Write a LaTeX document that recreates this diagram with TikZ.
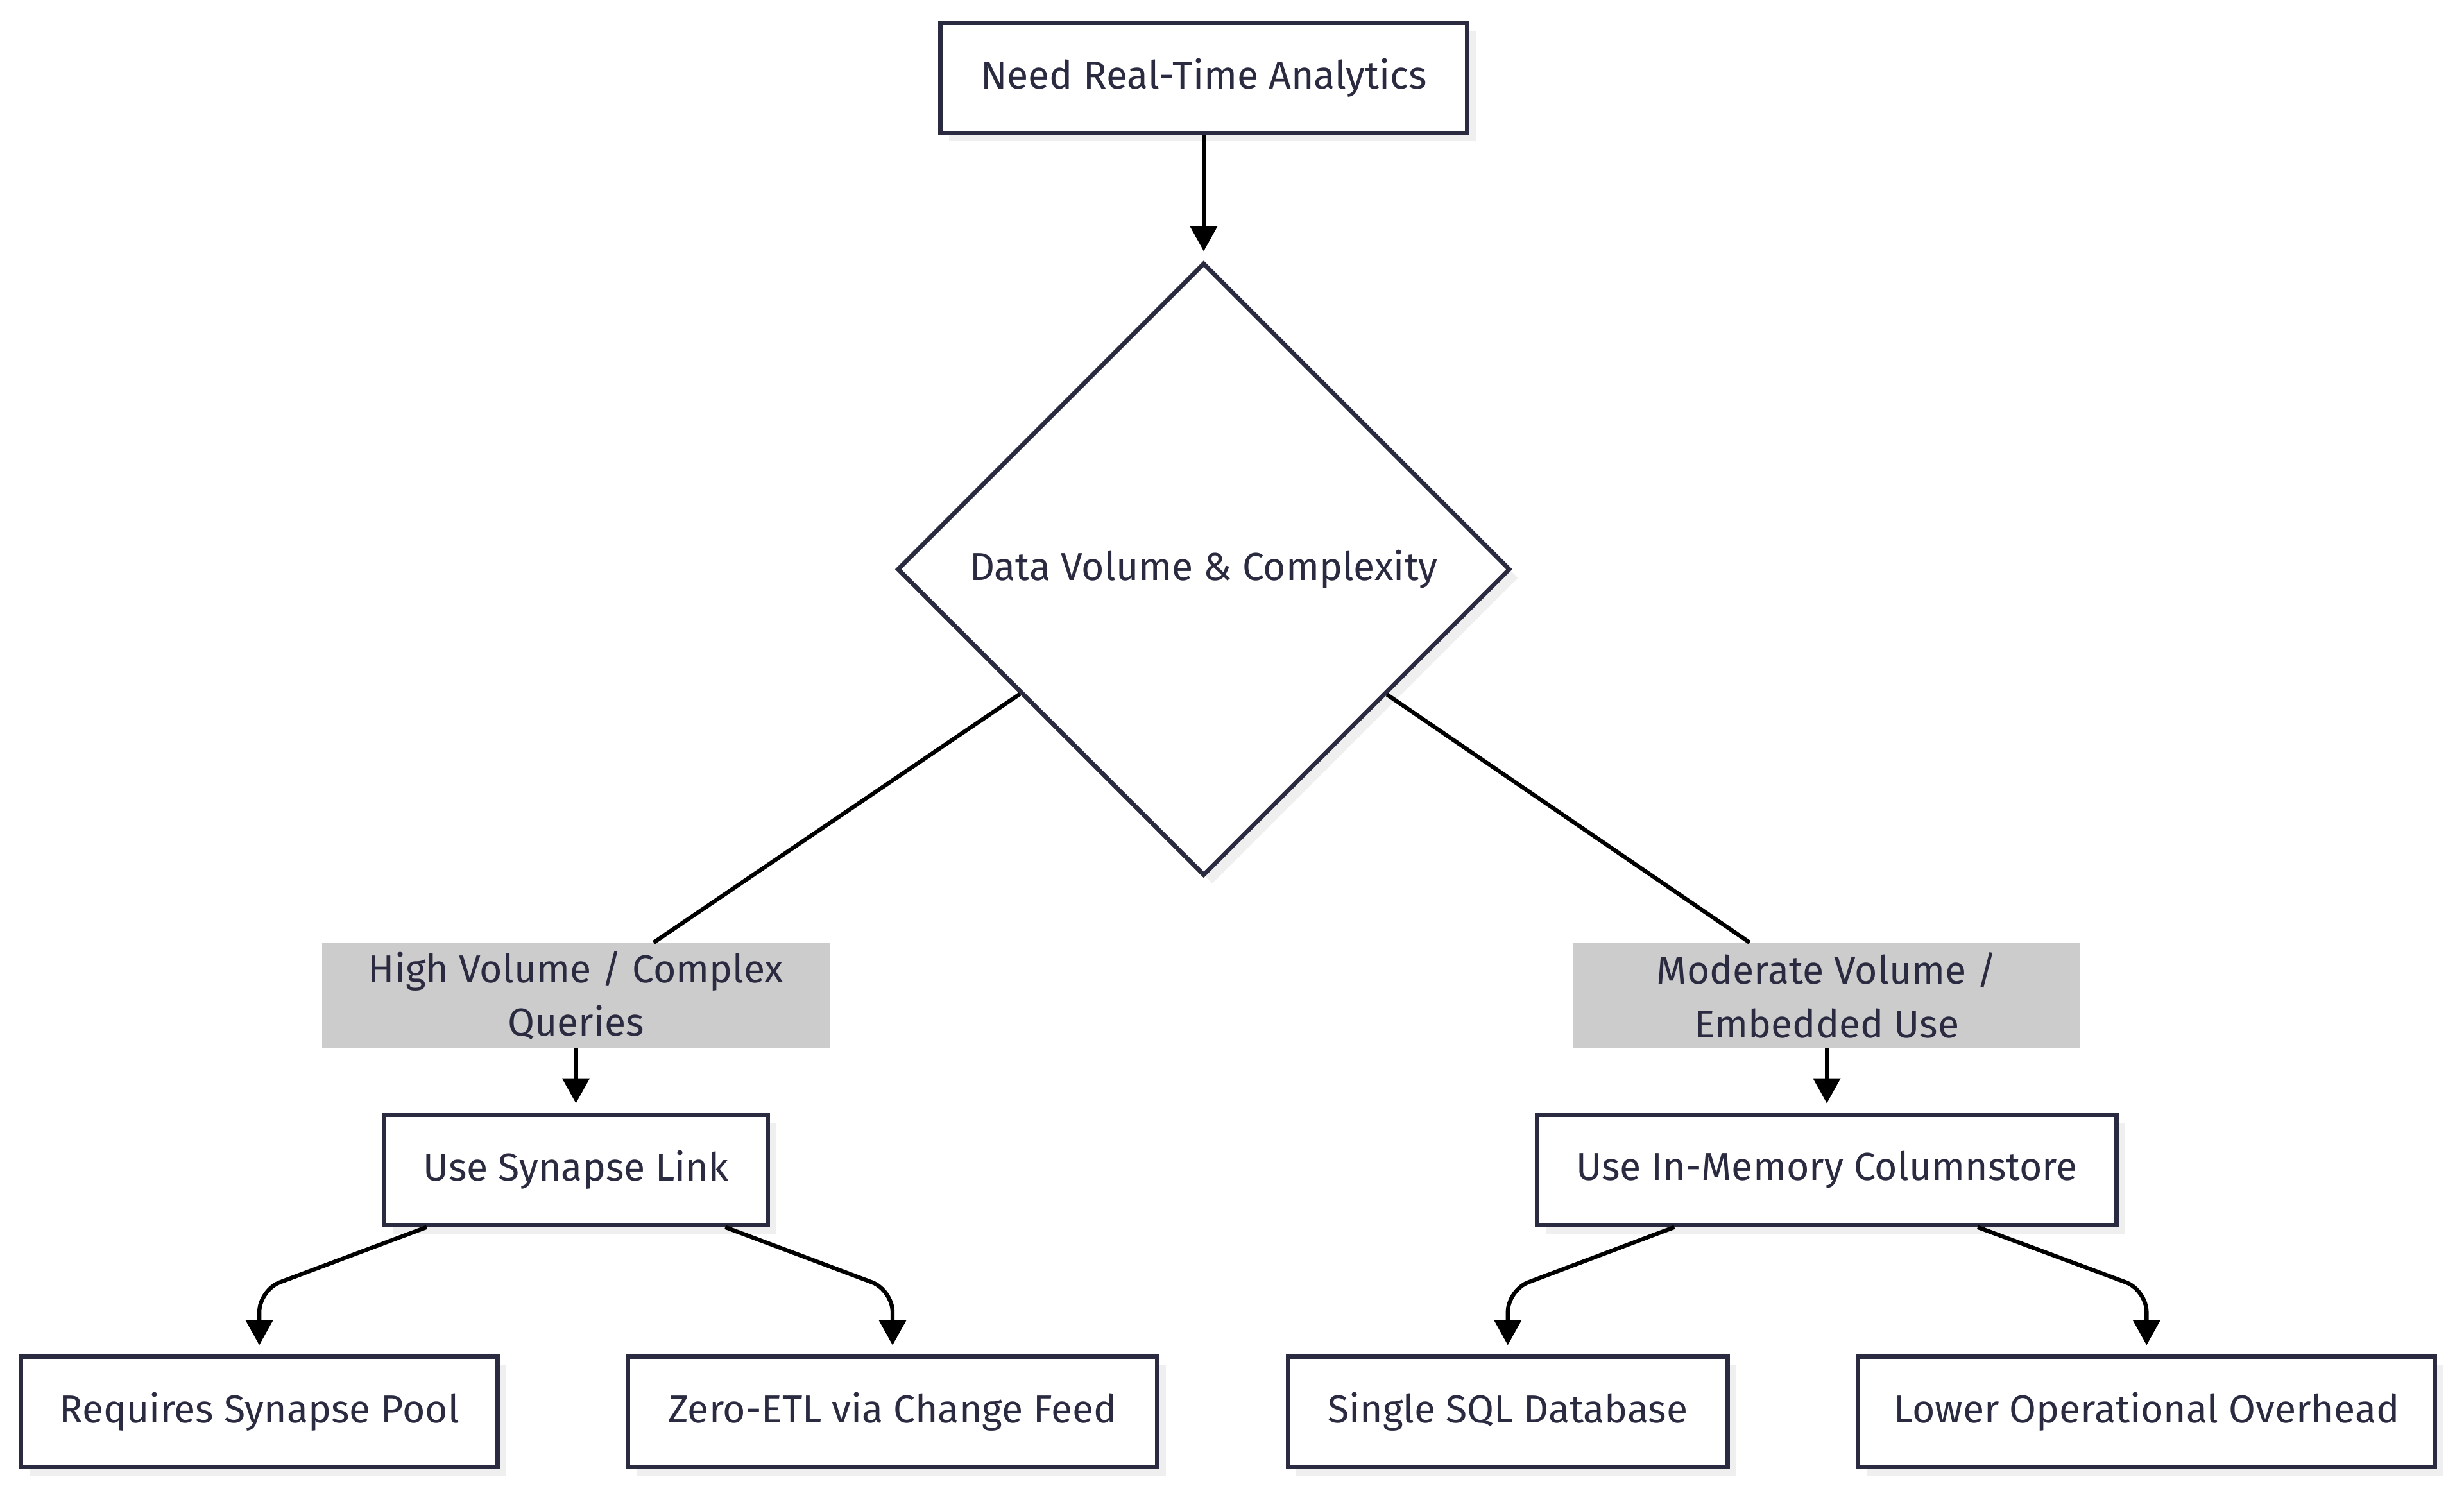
\documentclass[tikz,border=0pt]{standalone}
\usepackage{fontspec}
\setmainfont{Fira Sans}
\usetikzlibrary{positioning}
\usetikzlibrary{shapes.geometric}
\usetikzlibrary{shadows}
\usetikzlibrary{arrows.meta}
\usetikzlibrary{calc}
\definecolor{ink}{HTML}{2A2A40}
\definecolor{shade}{HTML}{EFEFEF}
\definecolor{lblgray}{HTML}{CCCCCC}

\tikzset{
  txt/.style={text=ink, font=\fontsize{24.8}{34}\selectfont},
  box/.style={txt, draw=ink, line width=2.8pt, fill=white, inner sep=0pt,
    minimum height=70pt,
    general shadow={fill=shade, shadow xshift=5.5pt, shadow yshift=-5.5pt}},
  decision/.style={txt, diamond, aspect=1, draw=ink, line width=2.8pt, fill=white,
    inner sep=0pt, minimum width=390pt, minimum height=390pt,
    general shadow={fill=shade, shadow xshift=5.5pt, shadow yshift=-5.5pt}},
  lbl/.style={txt, fill=lblgray, align=center, inner sep=0pt,
    minimum width=323pt, minimum height=67pt},
  link/.style={line width=2.6pt},
  flow/.style={link, -{Triangle[length=16pt,width=17pt]}, shorten >=6pt}
}

\begin{document}
\begin{tikzpicture}[x=1pt,y=-1pt]
\useasboundingbox (0,0) rectangle (1568,950);

\node(need)[box, minimum width=335pt] at (766,49.5) {Need Real-Time Analytics};
\node(vol)[decision, below=80pt of need] {Data Volume \& Complexity};

\node(hi)[lbl] at (366.5,633.5) {High Volume / Complex\\Queries};
\node(mod)[lbl] at (1162.5,633.5) {Moderate Volume /\\Embedded Use};

\node(syn)[box, minimum width=244pt, below=41pt of hi] {Use Synapse Link};
\node(col)[box, minimum width=369pt, below=41pt of mod] {Use In-Memory Columnstore};

\node(pool)[box, minimum width=303pt] at (165,898.5) {Requires Synapse Pool};
\node(etl)[box, minimum width=337pt] at (568,898.5) {Zero-ETL via Change Feed};
\node(sql)[box, minimum width=280pt] at (959.5,898.5) {Single SQL Database};
\node(ovh)[box, minimum width=367pt] at (1366,898.5) {Lower Operational Overhead};

% bends of the lower connectors
\coordinate(k1) at ($(syn.south -| pool)+(0,40)$);
\coordinate(k2) at ($(syn.south -| etl)+(0,40)$);
\coordinate(k3) at ($(col.south -| sql)+(0,40)$);
\coordinate(k4) at ($(col.south -| ovh)+(0,40)$);

\draw[flow] (need)--(vol);

\draw[link] (vol)--(hi);
\draw[link] (vol)--(mod);
\draw[flow] (hi)--(syn);
\draw[flow] (mod)--(col);

\draw[flow, rounded corners=14pt] ([xshift=-95pt]syn.south)--(k1)--(pool);
\draw[flow, rounded corners=14pt] ([xshift=95pt]syn.south)--(k2)--(etl);
\draw[flow, rounded corners=14pt] ([xshift=-97pt]col.south)--(k3)--(sql);
\draw[flow, rounded corners=14pt] ([xshift=96pt]col.south)--(k4)--(ovh);
\end{tikzpicture}
\end{document}
